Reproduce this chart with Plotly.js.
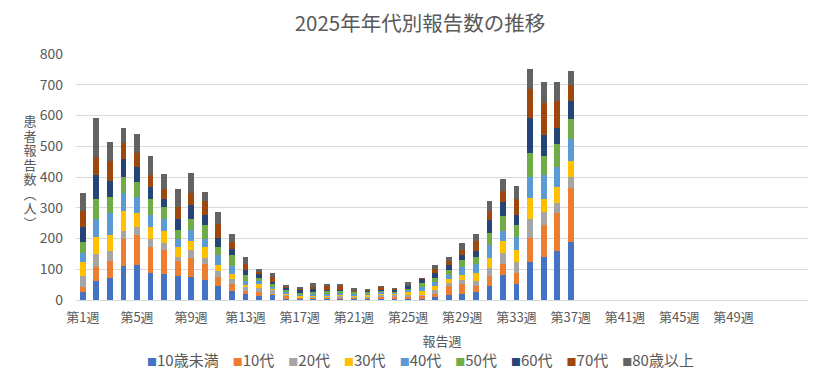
<!DOCTYPE html>
<html>
<head>
<meta charset="utf-8">
<script src="https://cdn.plot.ly/plotly-3.0.1.min.js"></script>
<style>
html,body{margin:0;padding:0;background:#fff;}
#chart{width:840px;height:379px;}
</style>
</head>
<body>
<div id="chart"></div>
<script>
// 報告週 (第n週)
const weeks = [1,2,3,4,5,6,7,8,9,10,11,12,13,14,15,16,17,18,19,20,21,22,23,24,25,26,27,28,29,30,31,32,33,34,35,36,37];

// 年代別 報告数
const under10  = [27,63,73,112,115,88,86,79,75,66,47,30,21,14,16,3,4,2,3,3,3,4,3,3,3,4,10,16,20,26,46,82,52,124,140,160,190];
const teens    = [16,45,55,87,97,83,78,49,63,52,29,23,7,12,5,9,2,5,3,5,4,4,8,8,8,9,10,29,33,20,33,36,36,78,105,124,175];
const twenties = [36,43,30,26,26,26,22,12,23,20,17,15,15,12,11,4,2,2,5,4,3,3,6,4,4,4,13,9,13,16,26,36,36,62,42,30,35];
const thirties = [46,54,52,63,44,39,37,31,32,33,22,18,7,13,5,5,5,4,3,4,3,6,3,5,11,13,11,14,16,26,33,39,39,69,42,54,53];
const forties  = [28,57,74,59,54,41,42,28,36,28,32,26,12,11,6,4,3,5,4,8,5,4,5,2,5,11,15,13,24,30,40,33,42,68,78,65,71];
const fifties  = [37,65,52,54,49,52,36,30,36,46,26,33,20,11,10,9,6,8,10,6,9,4,4,5,5,14,14,16,25,22,41,46,39,78,62,75,66];
const sixties  = [46,81,52,57,48,39,28,36,43,32,30,22,17,13,6,6,10,10,5,4,0,5,5,5,9,13,14,16,16,20,42,46,33,114,68,52,58];
const seventies= [52,58,64,52,44,37,33,36,41,44,43,23,19,6,15,3,4,5,12,12,1,3,9,3,2,3,14,13,17,33,27,37,52,94,103,86,50];
const over80   = [61,125,62,48,64,64,49,61,65,31,39,26,22,9,14,7,6,14,8,7,12,4,4,4,12,1,13,13,22,23,35,38,42,65,70,64,48];

const seriesNames = ['10歳未満','10代','20代','30代','40代','50代','60代','70代','80歳以上'];
const seriesValues = [under10, teens, twenties, thirties, forties, fifties, sixties, seventies, over80];
const seriesColors = ['#4472C4','#ED7D31','#A5A5A5','#FFC000','#5B9BD5','#70AD47','#264478','#9E480E','#636363'];

const tickWeeks  = [1,5,9,13,17,21,25,29,33,37,41,45,49];
const tickLabels = ['第1週','第5週','第9週','第13週','第17週','第21週','第25週','第29週','第33週','第37週','第41週','第45週','第49週'];

const yTitle = '患者報告数（人）';

const FONT = '"Noto Sans CJK JP", "Noto Sans", sans-serif';
const TXT = '#595959';

const traces = seriesNames.map((name, i) => ({
  type: 'bar',
  name: name,
  x: weeks,
  y: seriesValues[i],
  marker: {color: seriesColors[i], line: {width: 0}},
  showlegend: false,
  hovertemplate: '%{x}週 ' + name + ': %{y}<extra></extra>'
}));

// legend row as text (colored squares + names)
const legendText = seriesNames.map((n, i) =>
  '<span style="color:' + seriesColors[i] + ';font-size:10px">■</span>' + n
).join('<span style="font-size:14px">　</span>');

const layout = {
  width: 840,
  height: 379,
  margin: {l: 75.7, r: 32.3, t: 54.3, b: 79},
  paper_bgcolor: '#ffffff',
  plot_bgcolor: '#ffffff',
  barmode: 'stack',
  bargap: 0.58,
  font: {family: FONT, color: TXT, size: 13},
  title: {
    text: '2025年年代別報告数の推移',
    font: {family: FONT, size: 20.5, color: TXT},
    x: 0.5, xanchor: 'center',
    y: 1 - 24/379, yanchor: 'middle', yref: 'container'
  },
  xaxis: {
    type: 'linear',
    range: [0.5, 54.5],
    tickmode: 'array',
    tickvals: tickWeeks,
    ticktext: tickLabels,
    showgrid: false,
    zeroline: false,
    showline: false,
    ticks: '',
    ticklabelstandoff: 8,
    tickfont: {family: FONT, size: 13, color: TXT},
    title: {text: '報告週', font: {family: FONT, size: 13, color: TXT}, standoff: 11}
  },
  yaxis: {
    range: [0, 800],
    dtick: 100,
    tick0: 0,
    showgrid: true,
    gridcolor: '#d9d9d9',
    gridwidth: 1,
    zeroline: true,
    zerolinecolor: '#d9d9d9',
    zerolinewidth: 1,
    showline: false,
    ticks: '',
    ticklabelstandoff: 12,
    tickfont: {family: FONT, size: 14, color: TXT}
  },
  annotations: [
    {
      text: yTitle,
      xref: 'paper', yref: 'paper',
      x: (30 - 75.7) / 732, y: (300 - 173) / 245.7,
      xanchor: 'center', yanchor: 'middle',
      showarrow: false,
      font: {family: FONT, size: 13, color: TXT}
    },
    {
      text: legendText,
      xref: 'paper', yref: 'paper',
      x: (420 - 75.7) / 732, y: (300 - 359) / 245.7,
      xanchor: 'center', yanchor: 'middle',
      showarrow: false,
      font: {family: FONT, size: 15, color: TXT}
    }
  ]
};

Plotly.newPlot('chart', traces, layout, {displayModeBar: false, staticPlot: true}).then(() => {
  // set the y-axis title annotation in vertical (tategaki) writing mode, as in the original
  const t = document.querySelector('#chart .annotation[data-index="0"] text.annotation-text');
  if (t) {
    t.style.writingMode = 'vertical-rl';
    t.style.letterSpacing = '1.5px';
    t.setAttribute('x', '0');
    t.setAttribute('y', '0');
    // center the vertical text on its anchor point (30, 173) in page pixels
    const root = document.querySelector('#chart .main-svg').getBoundingClientRect();
    const tb = t.getBoundingClientRect();
    const dx = 30 - ((tb.left + tb.right) / 2 - root.left);
    const dy = 173 - ((tb.top + tb.bottom) / 2 - root.top);
    t.setAttribute('x', String(dx));
    t.setAttribute('y', String(dy));
  }
});
</script>
</body>
</html>
